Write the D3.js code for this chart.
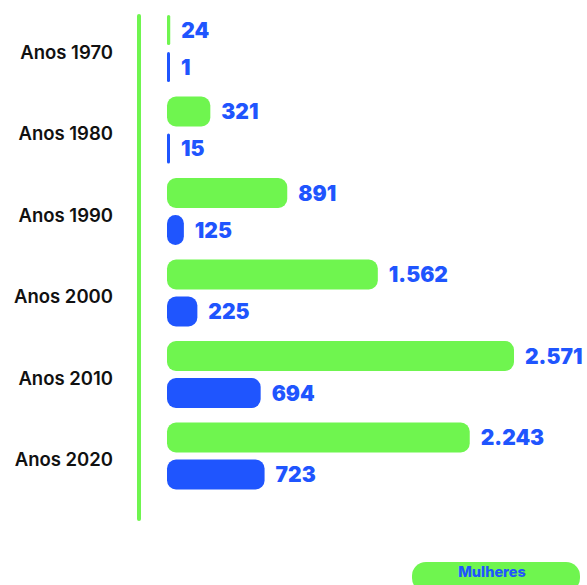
<!DOCTYPE html>
<html>
<head>
<meta charset="utf-8">
<script src="https://cdn.jsdelivr.net/npm/d3@7"></script>
<style>
  html, body { margin: 0; padding: 0; background: #fff; }
  svg { display: block; }
</style>
</head>
<body>
<svg id="chart" width="587" height="585"></svg>
<script>
// Decades and the two series per decade
const decades = ["Anos 1970", "Anos 1980", "Anos 1990", "Anos 2000", "Anos 2010", "Anos 2020"];
const greenValues = [24, 321, 891, 1562, 2571, 2243];
const blueValues = [1, 15, 125, 225, 694, 723];
const legendLabels = ["Mulheres"];

const GREEN = "#6ff54f";
const BLUE = "#1f55fe";

const svg = d3.select("#chart");
const fmt = d3.formatLocale({ decimal: ",", thousands: ".", grouping: [3], currency: ["R$", ""] }).format(",d");

const x = d3.scaleLinear().domain([0, d3.max(greenValues)]).range([167, 514]);
const y = d3.scaleBand().domain(decades).range([15, 504]).paddingInner(0).paddingOuter(0);

const barH = 30;
const gap = 7;
const minW = 3;

// Vertical axis rule
svg.append("line")
  .attr("x1", 139).attr("x2", 139)
  .attr("y1", 16).attr("y2", 519)
  .attr("stroke", GREEN).attr("stroke-width", 4)
  .attr("stroke-linecap", "round");

const rows = decades.map((d, i) => ({ d, g: greenValues[i], b: blueValues[i] }));

const grp = svg.selectAll("g.row").data(rows).join("g").attr("class", "row")
  .attr("transform", r => `translate(0,${y(r.d)})`);

function bar(sel, key, color, yOff) {
  sel.append("rect")
    .attr("x", x(0))
    .attr("y", yOff)
    .attr("width", r => Math.max(x(r[key]) - x(0), minW))
    .attr("height", barH)
    .attr("rx", r => Math.min(9, Math.max(x(r[key]) - x(0), minW) / 2))
    .attr("fill", color);
  sel.append("text")
    .attr("x", r => x(0) + Math.max(x(r[key]) - x(0), minW) + 11)
    .attr("y", yOff + barH / 2)
    .attr("dy", "0.36em")
    .attr("font-family", "Inter, 'Open Sans', sans-serif")
    .attr("font-weight", 900)
    .attr("font-size", 21)
    .attr("fill", BLUE)
    .text(r => fmt(r[key]));
}

bar(grp, "g", GREEN, 0);
bar(grp, "b", BLUE, barH + gap);

// Category labels
grp.append("text")
  .attr("x", 113)
  .attr("y", barH + gap / 2 + 4)
  .attr("dy", "0.35em")
  .attr("text-anchor", "end")
  .attr("font-family", "Inter, 'Open Sans', sans-serif")
  .attr("font-weight", 600)
  .attr("font-size", 18.5)
  .attr("fill", "#111")
  .text(r => r.d);

// Legend pill
const leg = svg.append("g").attr("transform", "translate(412,562)");
leg.append("rect")
  .attr("width", 168).attr("height", 30).attr("rx", 14)
  .attr("fill", GREEN);
leg.append("text")
  .attr("x", 80).attr("y", 15)
  .attr("text-anchor", "middle")
  .attr("font-family", "Inter, 'Open Sans', sans-serif")
  .attr("font-weight", 800)
  .attr("font-size", 14.5)
  .attr("fill", BLUE)
  .text(legendLabels[0]);
</script>
</body>
</html>
